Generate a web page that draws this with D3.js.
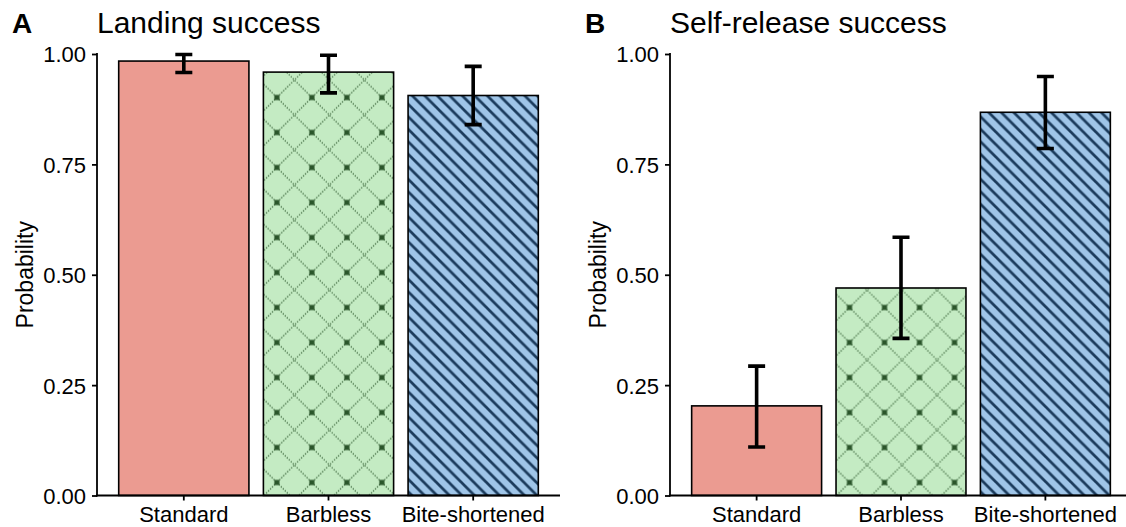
<!DOCTYPE html>
<html><head><meta charset="utf-8">
<script src="https://cdn.jsdelivr.net/npm/d3@7"></script>
<style>
html,body{margin:0;padding:0;background:#fff;}
svg text{font-family:"Liberation Sans",Arial,sans-serif;fill:#000;}
</style></head>
<body><svg id="c" width="1126" height="527"></svg>
<script>
const categories = ["Standard", "Barbless", "Bite-shortened"];
const yTicks = [0, 0.25, 0.5, 0.75, 1.0];
const yTickLabels = ["0.00", "0.25", "0.50", "0.75", "1.00"];
const panelLetters = ["A", "B"];
const panelTitles = ["Landing success", "Self-release success"];
const landingValue = [0.984, 0.959, 0.906];
const landingLower = [0.958, 0.912, 0.840];
const landingUpper = [0.999, 0.997, 0.972];
const releaseValue = [0.203, 0.470, 0.868];
const releaseLower = [0.110, 0.356, 0.786];
const releaseUpper = [0.293, 0.585, 0.949];
const fills = ["#eb9b91", "#c4ebc3", "#9fc5e8"];

const svg = d3.select("#c");
const defs = svg.append("defs");

const panels = [
  {left: 97, right: 560, value: landingValue, lower: landingLower, upper: landingUpper},
  {left: 670, right: 1132, value: releaseValue, lower: releaseLower, upper: releaseUpper}
];
const plotTop = 54, plotBottom = 495.5;

panels.forEach((p, pi) => {
  const g = svg.append("g");
  const x = d3.scaleBand().domain(categories).range([p.left, p.right]).paddingInner(0.1).paddingOuter(0.15);
  const y = d3.scaleLinear().domain([0, 1]).range([plotBottom, plotTop]);
  const bw = x.bandwidth();

  categories.forEach((c, i) => {
    const x0 = x(c);
    const yv = y(p.value[i]);
    g.append("rect").attr("x", x0).attr("y", yv).attr("width", bw).attr("height", plotBottom - yv)
      .attr("fill", fills[i]);
    if (i === 1) {
      const id = "diam" + pi;
      const s = 35;
      const pat = defs.append("pattern").attr("id", id).attr("patternUnits", "userSpaceOnUse")
        .attr("width", s).attr("height", s)
        .attr("x", x0 + 13.5).attr("y", plotBottom - 13);
      pat.append("path").attr("d", `M0,0L${s},${s}M${s},0L0,${s}`)
        .attr("stroke", "#1f4a1f").attr("stroke-width", 1.1).attr("stroke-dasharray", "1.2,1.6").attr("fill", "none");
      [[0,0],[s,0],[0,s],[s,s]].forEach(([a,b]) => pat.append("rect").attr("x", a-2.6).attr("y", b-2.6)
        .attr("width", 5.2).attr("height", 5.2).attr("fill", "#2a552a"));
      g.append("rect").attr("x", x0).attr("y", yv).attr("width", bw).attr("height", plotBottom - yv)
        .attr("fill", `url(#${id})`);
    }
    if (i === 2) {
      const id = "stripe" + pi;
      const s = 12.5;
      const pat = defs.append("pattern").attr("id", id).attr("patternUnits", "userSpaceOnUse")
        .attr("width", s).attr("height", s).attr("x", x0 + 4).attr("y", plotBottom);
      pat.append("path").attr("d", `M${-s},0L${s},${2*s}M0,${-s}L${2*s},${s}M${-s},${-s}L${2*s},${2*s}`)
        .attr("stroke", "#1b3b5c").attr("stroke-width", 2.7).attr("fill", "none");
      g.append("rect").attr("x", x0).attr("y", yv).attr("width", bw).attr("height", plotBottom - yv)
        .attr("fill", `url(#${id})`);
    }
    g.append("rect").attr("x", x0).attr("y", yv).attr("width", bw).attr("height", plotBottom - yv)
      .attr("fill", "none").attr("stroke", "#000").attr("stroke-width", 1.6);
  });

  categories.forEach((c, i) => {
    const cx = x(c) + bw / 2;
    const capW = 8.5;
    const yl = y(p.lower[i]), yu = y(p.upper[i]);
    g.append("path").attr("d", `M${cx - capW},${yu}H${cx + capW}M${cx},${yu}V${yl}M${cx - capW},${yl}H${cx + capW}`)
      .attr("stroke", "#000").attr("stroke-width", 3.6).attr("fill", "none");
  });

  const yAxis = d3.axisLeft(y).tickValues(yTicks).tickFormat((d, i) => yTickLabels[i]).tickSize(5).tickPadding(6);
  const ya = g.append("g").attr("transform", `translate(${p.left},0)`).call(yAxis);
  const xAxis = d3.axisBottom(x).tickSize(5).tickPadding(6);
  const xa = g.append("g").attr("transform", `translate(0,${plotBottom})`).call(xAxis);
  [ya, xa].forEach(a => {
    a.select(".domain").remove();
    a.selectAll(".tick line").attr("stroke", "#000").attr("stroke-width", 1.8);
    a.selectAll(".tick text").attr("font-size", 22).attr("fill", "#000").style("font-family", '"Liberation Sans",Arial,sans-serif');
  });
  xa.selectAll(".tick text").attr("dy", "0.71em");
  ya.selectAll(".tick text").attr("dy", "0.36em");
  g.append("line").attr("x1", p.left).attr("x2", p.left).attr("y1", plotTop - 1).attr("y2", plotBottom + 0.9)
    .attr("stroke", "#000").attr("stroke-width", 1.8);
  g.append("line").attr("x1", p.left - 0.9).attr("x2", p.right).attr("y1", plotBottom).attr("y2", plotBottom)
    .attr("stroke", "#000").attr("stroke-width", 1.8);

  g.append("text").attr("transform", `translate(${p.left - 64},${(plotTop + plotBottom) / 2}) rotate(-90)`)
    .attr("text-anchor", "middle").attr("font-size", 23).text("Probability");
  g.append("text").attr("x", p.left).attr("y", 33).attr("font-size", 30).text(panelTitles[pi]);
  g.append("text").attr("x", p.left - 85).attr("y", 33).attr("font-size", 28).attr("font-weight", "bold").text(panelLetters[pi]);
});
</script></body></html>
